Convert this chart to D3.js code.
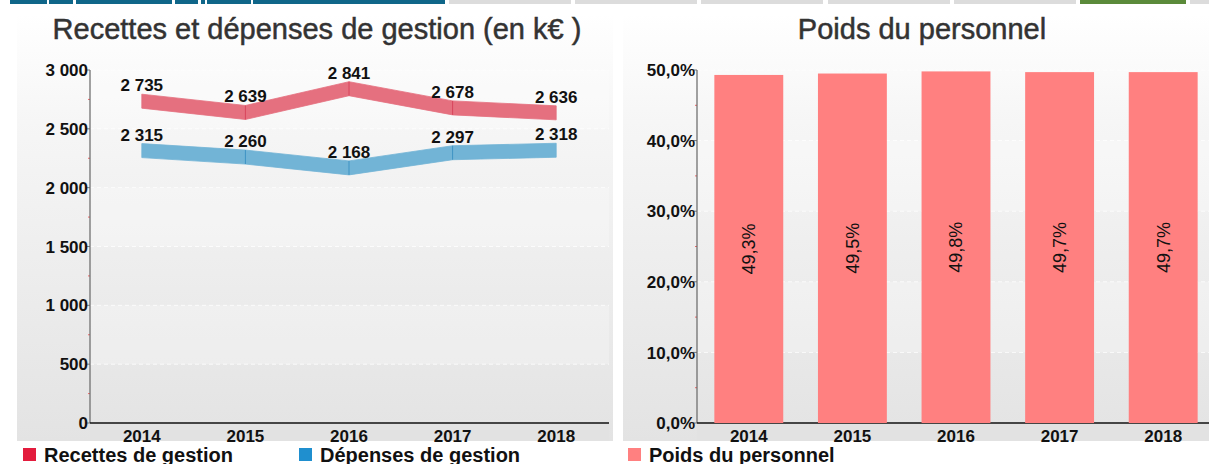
<!DOCTYPE html>
<html lang="fr">
<head>
    <meta charset="UTF-8">
    <title>Recettes et dépenses de gestion</title>
    <style>
        body { margin: 0; background: #fff; }
        svg { display: block; font-family: "Liberation Sans", Arial, sans-serif; }
        .title { font-size: 29px; fill: #333; stroke: #333; stroke-width: 0.5px; }
        .tick-label { font-size: 17px; font-weight: bold; fill: #111; }
        .val-label { font-size: 17px; font-weight: bold; fill: #111; }
        .bar-label { font-size: 18px; fill: #111; }
        .legend { font-size: 20px; font-weight: bold; fill: #111; }
    </style>
</head>
<body>
<svg width="1209" height="464"></svg>
<script src="https://d3js.org/d3.v7.min.js"></script>
<script>
    // données
    const years = ['2014', '2015', '2016', '2017', '2018'];
    const recettes = [2735, 2639, 2841, 2678, 2636];
    const depenses = [2315, 2260, 2168, 2297, 2318];
    const poids = [49.3, 49.5, 49.8, 49.7, 49.7];
    const leftTicks = [0, 500, 1000, 1500, 2000, 2500, 3000];
    const rightTicks = [0, 10, 20, 30, 40, 50];

    const fr = d3.formatLocale({ decimal: ',', thousands: ' ', grouping: [3], currency: ['', ' €'] });
    const fmtInt = fr.format(',d');
    const fmtPct = fr.format('.1f');

    const svg = d3.select('svg');
    const defs = svg.append('defs');

    const grad = defs.append('linearGradient').attr('id', 'panelBg')
        .attr('x1', 0).attr('y1', 0).attr('x2', 0).attr('y2', 1);
    grad.append('stop').attr('offset', '0%').attr('stop-color', '#ffffff');
    grad.append('stop').attr('offset', '25%').attr('stop-color', '#f6f6f6');
    grad.append('stop').attr('offset', '100%').attr('stop-color', '#e3e3e3');

    // bandeau du haut
    const topTabs = [[10, 47, '#0f6689'], [49, 73, '#0f6689'], [76, 172, '#0f6689'], [175, 198, '#0f6689'],
        [201, 205, '#0f6689'], [207, 251, '#0f6689'], [253, 445, '#0f6689'],
        [449, 571, '#dcdcdc'], [575, 697, '#dcdcdc'], [701, 823, '#dcdcdc'], [828, 950, '#dcdcdc'],
        [954, 1076, '#dcdcdc'], [1080, 1186, '#5b8a3a'], [1190, 1209, '#dcdcdc']];
    svg.selectAll('.tab').data(topTabs).enter().append('rect')
        .attr('x', d => d[0]).attr('y', 0).attr('width', d => d[1] - d[0]).attr('height', 4)
        .attr('fill', d => d[2]);

    const plotTop = 70, plotBottom = 423, panelTop = 14, panelBottom = 441;

    function panel(x0, x1) {
        svg.append('rect').attr('x', x0).attr('y', panelTop).attr('width', x1 - x0)
            .attr('height', panelBottom - panelTop).attr('fill', 'url(#panelBg)');
    }

    function yAxis(y, ticks, axisX, x1, fmt) {
        // bandes alternées + grille
        for (let i = 0; i < ticks.length - 1; i++) {
            if (i % 2 === 1) {
                svg.append('rect').attr('x', axisX).attr('y', y(ticks[i + 1]))
                    .attr('width', x1 - axisX).attr('height', y(ticks[i]) - y(ticks[i + 1]))
                    .attr('fill', '#ffffff').attr('opacity', 0.25);
            }
        }
        svg.selectAll(null).data(ticks.slice(1)).enter().append('line')
            .attr('x1', axisX).attr('x2', x1).attr('y1', d => y(d)).attr('y2', d => y(d))
            .attr('stroke', '#ffffff').attr('stroke-dasharray', '4,3').attr('opacity', 0.8);
        // petites graduations rouges
        const step = ticks[1] - ticks[0];
        svg.selectAll(null).data(ticks.slice(1)).enter().append('line')
            .attr('x1', axisX - 2).attr('x2', axisX).attr('y1', d => y(d - step / 2)).attr('y2', d => y(d - step / 2))
            .attr('stroke', '#e66');
        svg.selectAll(null).data(ticks).enter().append('line')
            .attr('x1', axisX - 4).attr('x2', axisX).attr('y1', d => y(d)).attr('y2', d => y(d))
            .attr('stroke', '#777');
        svg.append('line').attr('x1', axisX).attr('x2', axisX).attr('y1', y(ticks[ticks.length - 1]))
            .attr('y2', plotBottom).attr('stroke', '#666').attr('stroke-width', 1.2);
        svg.selectAll(null).data(ticks).enter().append('text')
            .attr('class', 'tick-label').attr('x', axisX - 2).attr('y', d => y(d)).attr('dy', '0.36em')
            .attr('text-anchor', 'end').text(fmt);
    }

    function xAxis(x, axisX, x1) {
        svg.append('rect').attr('x', axisX).attr('y', plotBottom).attr('width', x1 - axisX)
            .attr('height', panelBottom - plotBottom).attr('fill', '#e2e2e2');
        svg.append('line').attr('x1', axisX).attr('x2', x1).attr('y1', plotBottom).attr('y2', plotBottom)
            .attr('stroke', '#111').attr('stroke-width', 1.3);
        svg.selectAll(null).data(years).enter().append('text')
            .attr('class', 'tick-label').attr('x', d => x(d) + x.bandwidth() / 2).attr('y', 442)
            .attr('text-anchor', 'middle').text(d => d);
    }

    // ---------- graphique de gauche ----------
    panel(17, 613);
    const xL = d3.scaleBand().domain(years).range([90, 608]);
    const yL = d3.scaleLinear().domain([0, 3000]).range([plotBottom, plotTop]);
    yAxis(yL, leftTicks, 90, 609, d => fmtInt(d));
    xAxis(xL, 90, 609);

    svg.append('text').attr('class', 'title').attr('x', 317).attr('y', 39)
        .attr('text-anchor', 'middle').text('Recettes et dépenses de gestion (en k€ )');

    const series = [
        { name: 'Recettes de gestion', values: recettes, fill: '#e5707f', edge: '#d8455c', legend: '#e31c3d' },
        { name: 'Dépenses de gestion', values: depenses, fill: '#72b4d6', edge: '#3e93c4', legend: '#1f8fcf' }
    ];
    const cx = d => xL(d) + xL.bandwidth() / 2;
    const band = d3.area().x(d => cx(d.year)).y0(d => yL(d.v) + 7).y1(d => yL(d.v) - 7);

    series.forEach(s => {
        const pts = years.map((yr, i) => ({ year: yr, v: s.values[i] }));
        svg.append('path').datum(pts).attr('d', band).attr('fill', s.fill)
            .attr('stroke', s.fill).attr('stroke-width', 0.8);
        svg.selectAll(null).data(pts.slice(1, -1)).enter().append('line')
            .attr('x1', d => cx(d.year)).attr('x2', d => cx(d.year))
            .attr('y1', d => yL(d.v) - 7).attr('y2', d => yL(d.v) + 7)
            .attr('stroke', s.edge).attr('stroke-width', 1);
        svg.selectAll(null).data(pts).enter().append('text')
            .attr('class', 'val-label').attr('x', d => cx(d.year)).attr('y', d => yL(d.v) - 10)
            .attr('text-anchor', 'middle').text(d => fmtInt(d.v));
    });

    // ---------- graphique de droite ----------
    panel(623, 1209);
    const xR = d3.scaleBand().domain(years).range([697, 1215]).paddingInner(0.335).paddingOuter(0.1675);
    const yR = d3.scaleLinear().domain([0, 50]).range([plotBottom, plotTop]);
    yAxis(yR, rightTicks, 697, 1209, d => fmtPct(d) + '%');
    xAxis(xR, 697, 1209);

    svg.append('text').attr('class', 'title').attr('x', 922).attr('y', 39)
        .attr('text-anchor', 'middle').text('Poids du personnel');

    const bars = years.map((yr, i) => ({ year: yr, v: poids[i] }));
    svg.selectAll('.bar').data(bars).enter().append('rect')
        .attr('class', 'bar')
        .attr('x', d => xR(d.year)).attr('y', d => yR(d.v))
        .attr('width', xR.bandwidth()).attr('height', d => plotBottom - yR(d.v))
        .attr('fill', '#ff8080');
    svg.selectAll('.bar-label').data(bars).enter().append('text')
        .attr('class', 'bar-label')
        .attr('transform', d => `translate(${xR(d.year) + xR.bandwidth() / 2},${(yR(d.v) + plotBottom) / 2}) rotate(-90)`)
        .attr('text-anchor', 'middle').attr('dy', '0.36em')
        .text(d => fmtPct(d.v) + '%');

    // ---------- légendes ----------
    const legendItems = [
        { x: 23, label: series[0].name, color: series[0].legend },
        { x: 299, label: series[1].name, color: series[1].legend },
        { x: 628, label: 'Poids du personnel', color: '#ff8080' }
    ];
    const lg = svg.selectAll('.lg').data(legendItems).enter().append('g')
        .attr('transform', d => `translate(${d.x},448)`);
    lg.append('rect').attr('width', 13).attr('height', 13).attr('fill', d => d.color);
    lg.append('text').attr('class', 'legend').attr('x', 21).attr('y', 14).text(d => d.label);
</script>
</body>
</html>
